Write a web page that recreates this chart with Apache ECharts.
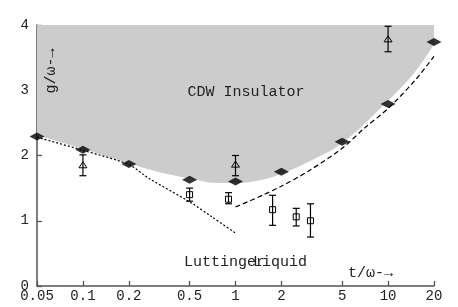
<!DOCTYPE html>
<html><head><meta charset="utf-8">
<script src="https://cdn.jsdelivr.net/npm/echarts@6/dist/echarts.min.js"></script>
<style>html,body{margin:0;padding:0;background:#fff}#c{width:458px;height:307px}</style>
</head><body><div id="c"></div>
<script>
// tick labels
const xTicks = [0.05, 0.1, 0.2, 0.5, 1, 2, 5, 10, 20];
const yTicks = [0, 1, 2, 3, 4];
// filled diamonds
const diamondT = [0.05, 0.1, 0.2, 0.5, 1, 2, 5, 10, 20];
const diamondG = [2.29, 2.09, 1.87, 1.63, 1.60, 1.75, 2.21, 2.79, 3.74];
// open triangles with error bars
const triT = [0.1, 1, 10];
const triG = [1.85, 1.86, 3.78];
const triLo = [1.69, 1.69, 3.59];
const triHi = [2.01, 2.00, 3.98];
// open squares with error bars
const sqT = [0.5, 0.9, 1.75, 2.5, 3.1];
const sqG = [1.40, 1.33, 1.17, 1.06, 1.00];
const sqLo = [1.30, 1.26, 0.93, 0.92, 0.75];
const sqHi = [1.50, 1.43, 1.39, 1.19, 1.26];
// dotted curve
const dotT = [0.05, 0.1, 0.2, 0.27, 0.5, 0.7, 1];
const dotG = [2.28, 2.08, 1.86, 1.65, 1.29, 1.06, 0.81];
// dashed curve
const dashT = [1, 1.5, 2, 3, 5, 7, 10, 15, 20];
const dashG = [1.21, 1.39, 1.53, 1.76, 2.11, 2.42, 2.72, 3.15, 3.52];
// lower edge of shaded CDW region
const edgeT = [0.05, 0.1, 0.2, 0.3, 0.5, 0.75, 1, 1.5, 2, 3, 5, 10, 15, 20];
const edgeG = [2.31, 2.10, 1.88, 1.76, 1.65, 1.58, 1.58, 1.63, 1.72, 1.90, 2.19, 2.84, 3.28, 3.70];

const FONT = '"Liberation Mono", "DejaVu Sans Mono", monospace';
const zip = (a, b) => a.map((v, i) => [v, b[i]]);
const zip4 = (a, b, c, d) => a.map((v, i) => [v, b[i], c[i], d[i]]);

function errItem(shape) {
  return function (params, api) {
    const t = api.value(0), g = api.value(1), lo = api.value(2), hi = api.value(3);
    const p = api.coord([t, g]);
    const pl = api.coord([t, lo]);
    const ph = api.coord([t, hi]);
    const st = { stroke: '#000', lineWidth: 1.2, fill: null };
    const ch = [
      { type: 'line', shape: { x1: p[0], y1: pl[1], x2: p[0], y2: ph[1] }, style: st },
      { type: 'line', shape: { x1: p[0] - 3.5, y1: pl[1], x2: p[0] + 3.5, y2: pl[1] }, style: st },
      { type: 'line', shape: { x1: p[0] - 3.5, y1: ph[1], x2: p[0] + 3.5, y2: ph[1] }, style: st }
    ];
    if (shape === 'tri') {
      ch.push({ type: 'polygon', shape: { points: [[p[0], p[1] - 3.5], [p[0] - 4, p[1] + 2.5], [p[0] + 4, p[1] + 2.5]] },
        style: { stroke: '#000', lineWidth: 1, fill: 'rgba(0,0,0,0)' } });
    } else {
      ch.push({ type: 'rect', shape: { x: p[0] - 3, y: p[1] - 3, width: 6, height: 6 },
        style: { stroke: '#000', lineWidth: 1, fill: 'rgba(0,0,0,0)' } });
    }
    return { type: 'group', children: ch };
  };
}

function fmtX(v) {
  const n = xTicks.find(x => Math.abs(x - v) / x < 1e-6);
  return n != null ? String(n) : '';
}

const chart = echarts.init(document.getElementById('c'), null, { renderer: 'canvas' });
chart.setOption({
  animation: false,
  backgroundColor: '#fff',
  grid: { left: 37, right: 24, top: 25, bottom: 21, containLabel: false, outerBoundsMode: 'none' },
  xAxis: {
    type: 'log', logBase: 10, min: 0.05, max: 20,
    axisLine: { show: true, lineStyle: { color: '#555', width: 1.5 } },
    axisTick: { show: true, inside: true, length: 5, customValues: xTicks, lineStyle: { color: '#555', width: 1.3 } },
    minorTick: { show: false },
    axisLabel: { customValues: xTicks, formatter: fmtX, margin: 3, color: '#222', fontFamily: FONT, fontSize: 14 },
    splitLine: { show: false }
  },
  yAxis: {
    type: 'value', min: 0, max: 4, interval: 1,
    axisLine: { show: true, lineStyle: { color: '#555', width: 1.5 } },
    axisTick: { show: true, inside: true, length: 5, lineStyle: { color: '#555', width: 1.3 } },
    axisLabel: { margin: 8, color: '#222', fontFamily: FONT, fontSize: 14,
      formatter: v => (yTicks.indexOf(v) >= 0 ? String(v) : '') },
    splitLine: { show: false }
  },
  series: [
    { type: 'line', data: zip(edgeT, edgeG), smooth: 0.4, symbol: 'none',
      lineStyle: { width: 0, opacity: 0 }, areaStyle: { color: '#cccccc', opacity: 1, origin: 'end' }, z: 1, silent: true },
    { type: 'line', data: zip(dotT, dotG), smooth: 0.3, symbol: 'none',
      lineStyle: { color: '#000', width: 1.2, type: [2, 2] }, z: 2 },
    { type: 'line', data: zip(dashT, dashG), smooth: 0.3, symbol: 'none',
      lineStyle: { color: '#000', width: 1.2, type: [5, 3] }, z: 2 },
    { type: 'custom', renderItem: errItem('tri'), data: zip4(triT, triG, triLo, triHi), clip: false, z: 3 },
    { type: 'custom', renderItem: errItem('sq'), data: zip4(sqT, sqG, sqLo, sqHi), clip: false, z: 3 },
    { type: 'scatter', data: zip(diamondT, diamondG), symbol: 'diamond', symbolSize: [15, 8],
      itemStyle: { color: '#000' }, clip: false, z: 4 }
  ],
  graphic: [
    { type: 'text', z: 100, x: 246, y: 92, style: { text: 'CDW Insulator', font: '15px ' + FONT, fill: '#222', textAlign: 'center', textVerticalAlign: 'middle' } },
    { type: 'text', z: 100, x: 184, y: 262, style: { text: 'Luttinger', font: '15px ' + FONT, fill: '#222', textAlign: 'left', textVerticalAlign: 'middle' } },
    { type: 'text', z: 100, x: 253, y: 262, style: { text: 'Liquid', font: '15px ' + FONT, fill: '#222', textAlign: 'left', textVerticalAlign: 'middle' } },
    { type: 'text', z: 100, x: 348, y: 273, style: { text: 't/ω-→', font: '15px ' + FONT, fill: '#222', textAlign: 'left', textVerticalAlign: 'middle' } },
    { type: 'text', z: 100, x: 51, y: 71, rotation: Math.PI / 2, style: { text: 'g/ω-→', font: '15px ' + FONT, fill: '#222', textAlign: 'center', textVerticalAlign: 'middle' } }
  ]
});
</script></body></html>
